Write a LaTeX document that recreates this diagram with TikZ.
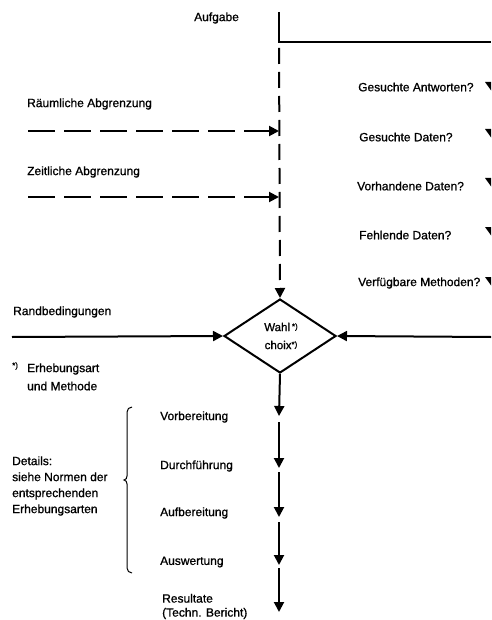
\documentclass[tikz,border=0pt]{standalone}
\usepackage{fontspec}
\setmainfont{Liberation Sans}[FakeBold=0.9]
\usetikzlibrary{arrows.meta,shapes.geometric}
\tikzset{
  lbl/.style={inner sep=0pt, font=\fontsize{12}{16}\selectfont, anchor=west},
  solidline/.style={line width=2pt},
  arr/.style={line width=2pt, -{Triangle[length=10pt,width=10pt]}},
  dasharrH/.style={arr, dash pattern=on 27pt off 9pt},
  dasharrV/.style={arr, dash pattern=on 16pt off 8pt, dash phase=18pt},
  tip/.style={fill=black},
  bracepath/.style={line width=1pt},
  starmark/.style={inner sep=0pt, font=\fontsize{8}{9}\selectfont},
}
\begin{document}
\begin{tikzpicture}[x=1pt,y=-1pt]
\clip (0,0) rectangle (491,620);
\fill[white] (0,0) rectangle (491,620);

% top
\node[lbl] (aufgabe) at (194,18) {Aufgabe};
\coordinate (top) at (279,12);
\coordinate (corner) at (279,42);
\coordinate (rend) at (491,42);
\draw[solidline] (top) -- (corner) -- (rend);

% diamond
\node[draw, diamond, line width=2pt, minimum width=112pt, minimum height=74pt, inner sep=0pt] (wahl) at (280,336) {};
\node[inner sep=0pt, font=\fontsize{11.5}{18}\selectfont, align=center] (wahltxt) at (281,336)
  {Wahl\,\raisebox{2pt}{\fontsize{8}{9}\selectfont*)}\\choix\raisebox{2pt}{\fontsize{8}{9}\selectfont*)}};

\draw[dasharrV] (corner) -- (wahl.north);

% left dashed inputs
\node[lbl] (raum) at (27,104) {Räumliche Abgrenzung};
\coordinate (r0) at (28,131);
\coordinate (r1) at (279,131);
\draw[dasharrH] (r0) -- (r1);
\node[lbl] (zeit) at (27,172) {Zeitliche Abgrenzung};
\coordinate (z0) at (28,197);
\coordinate (z1) at (279,197);
\draw[dasharrH] (z0) -- (z1);

% right questions
\node[lbl] (q1) at (358,87) {Gesuchte Antworten?};
\node[lbl] (q2) at (359,137) {Gesuchte Daten?};
\node[lbl] (q3) at (357,186) {Vorhandene Daten?};
\node[lbl] (q4) at (359,235) {Fehlende Daten?};
\node[lbl] (q5) at (358,283) {Verfügbare Methoden?};
\foreach \yy in {86,133,182,231,281}{
  \fill[tip] (485,\yy-4) -- (498,\yy-4) -- (491.5,\yy+5) -- cycle;
}

% Randbedingungen
\node[lbl] (rand) at (13,312) {Randbedingungen};
\coordinate (l0) at (12,337);
\draw[arr] (l0) -- (wahl.west);
\coordinate (rr0) at (491,337);
\draw[arr] (rr0) -- (wahl.east);

% footnote
\node[starmark, anchor=west] (star) at (12,366) {*)};
\node[lbl] (erh) at (27,369) {Erhebungsart};
\node[lbl] (meth) at (27,386) {und Methode};

% bottom chain
\coordinate (b1) at (279,416);
\coordinate (c1) at (279,422);
\coordinate (b2) at (279,468);
\coordinate (c2) at (279,472);
\coordinate (b3) at (279,517);
\coordinate (c3) at (279,522);
\coordinate (b4) at (279,565);
\coordinate (c4) at (279,568);
\coordinate (b5) at (279,612);
\draw[arr] (wahl.south) -- (b1);
\draw[arr] (c1) -- (b2);
\draw[arr] (c2) -- (b3);
\draw[arr] (c3) -- (b4);
\draw[arr] (c4) -- (b5);

\node[lbl] (vor) at (160,417) {Vorbereitung};
\node[lbl] (durch) at (160,466) {Durchführung};
\node[lbl] (aufb) at (160,513) {Aufbereitung};
\node[lbl] (ausw) at (160,562) {Auswertung};
\node[lbl, align=left, font=\fontsize{12}{14}\selectfont] (res) at (162,606.5) {Resultate\\(Techn. Bericht)};

% brace and details
\draw[bracepath] (132,407) to[out=180,in=90] (127,412) -- (127,476) to[out=270,in=0] (124,480) to[out=0,in=90] (127,484) -- (127,568) to[out=270,in=180] (132,573);
\node[lbl, align=left] (details) at (12,486) {Details:\\siehe Normen der\\entsprechenden\\Erhebungsarten};
\end{tikzpicture}
\end{document}
